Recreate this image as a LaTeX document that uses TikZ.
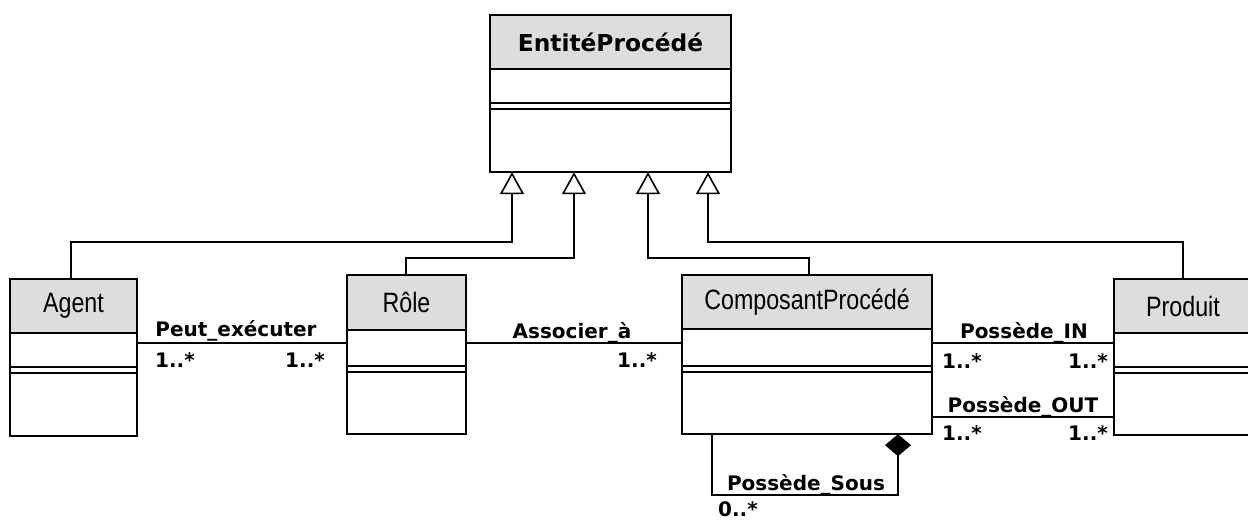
\documentclass[tikz,border=0pt]{standalone}
\usepackage{fontspec}
\setmainfont{Liberation Sans}
\newfontfamily\labelfont{DejaVu Sans}
\usetikzlibrary{arrows.meta,fit}
\definecolor{headgray}{RGB}{221,221,221}

\tikzset{
  frame/.style={draw=black, line width=2pt},
  sepline/.style={line width=2pt},
  classname/.style={font=\fontsize{28}{30}\selectfont, inner sep=0pt},
  assoc/.style={line width=1.6pt},
  gen/.style={line width=1.6pt, -{Triangle[open, length=22pt, width=24pt]}},
  compo/.style={line width=1.6pt, {Diamond[length=22pt, width=26pt]}-},
  lab/.style={font=\labelfont\bfseries\fontsize{20}{22}\selectfont, inner sep=0pt},
}

% class name, slightly condensed
\newcommand{\cname}[1]{\scalebox{0.83}[1]{#1}}

% #1 node name, #2 title, #3 left, #4 top, #5 right,
% #6 bottom of title row, #7 first rule of the double line, #8 bottom
\newcommand{\umlclass}[8]{%
  \fill[headgray] (#3,#4) rectangle (#5,#6);
  \draw[sepline] (#3,#6) -- (#5,#6);
  \draw[sepline] (#3,#7) -- (#5,#7);
  \draw[sepline] (#3,#7+6) -- (#5,#7+6);
  \draw[frame] (#3,#4) rectangle (#5,#8);
  \node[fit={(#3,#4) (#5,#8)}, inner sep=0pt] (#1) {};
  \node[classname] (#1-name) at ({(#3+#5)/2},{(#4+#6)/2}) {#2};
}

\begin{document}
\begin{tikzpicture}[x=1pt, y=-1pt]
  \useasboundingbox (0,0) rectangle (1248,521);
  \fill[white] (0,0) rectangle (1248,521);
  \clip (0,0) rectangle (1248,521);

  % classes
  \umlclass{entity}{\labelfont\bfseries\fontsize{23.3}{26}\selectfont EntitéProcédé}{490}{15}{731}{69}{103}{172}
  \umlclass{agent}{\cname{Agent}}{10}{279}{137}{333}{367}{436}
  \umlclass{role}{\cname{Rôle}}{347}{275}{466}{330}{366}{434}
  \umlclass{comp}{\cname{ComposantProcédé}}{682}{275}{932}{329}{366}{434}
  \umlclass{prod}{\cname{Produit}}{1114}{279}{1252}{333}{367}{435}

  % generalisations
  \draw[gen] (71,0 |- agent.north) |- (512,242) -- (512,0 |- entity.south);
  \draw[gen] (406,0 |- role.north) |- (574,258) -- (574,0 |- entity.south);
  \draw[gen] (809,0 |- comp.north) |- (648,258) -- (648,0 |- entity.south);
  \draw[gen] (1183,0 |- prod.north) |- (708,242) -- (708,0 |- entity.south);

  % associations
  \draw[assoc] (agent.east |- 0,343) -- (role.west |- 0,343);
  \draw[assoc] (role.east |- 0,343) -- (comp.west |- 0,343);
  \draw[assoc] (comp.east |- 0,343) -- (prod.west |- 0,343);
  \draw[assoc] (comp.east |- 0,417) -- (prod.west |- 0,417);

  % composition
  \draw[compo] (898,0 |- comp.south) -- (898,495) -| (712,0 |- comp.south);

  % labels
  \node[lab, anchor=base] (l1) at (236,337) {Peut\_exécuter};
  \node[lab, anchor=base west] (m1) at (155,367) {1..*};
  \node[lab, anchor=base east] (m2) at (325,367) {1..*};

  \node[lab, anchor=base] (l2) at (572,339) {Associer\_à};
  \node[lab, anchor=base east] (m3) at (657,367) {1..*};

  \node[lab, anchor=base] (l3) at (1024,339) {Possède\_IN};
  \node[lab, anchor=base west] (m4) at (942,368) {1..*};
  \node[lab, anchor=base east] (m5) at (1108,368) {1..*};

  \node[lab, anchor=base] (l4) at (1023,412) {Possède\_OUT};
  \node[lab, anchor=base west] (m6) at (942,440) {1..*};
  \node[lab, anchor=base east] (m7) at (1108,440) {1..*};

  \node[lab, anchor=base] (l5) at (806,490) {Possède\_Sous};
  \node[lab, anchor=base west] (m8) at (718,516) {0..*};
\end{tikzpicture}
\end{document}
